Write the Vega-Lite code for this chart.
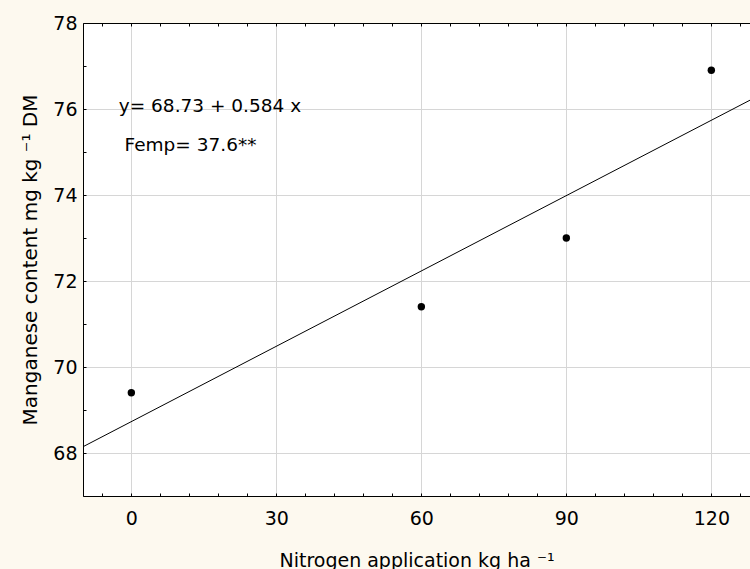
{
  "$schema": "https://vega.github.io/schema/vega-lite/v6.json",
  "width": 667,
  "height": 473,
  "autosize": "none",
  "padding": {"left": 83, "top": 23, "right": 0, "bottom": 73},
  "background": "#fdf9ef",
  "config": {"view": {"fill": "white", "stroke": null}, "font": "DejaVu Sans"},
  "datasets": {
    "points": [
      {"n": 0, "mn": 69.4},
      {"n": 60, "mn": 71.4},
      {"n": 90, "mn": 73.0},
      {"n": 120, "mn": 76.9}
    ],
    "fit": [
      {"n": -10, "mn": 68.146},
      {"n": 128, "mn": 76.205}
    ]
  },
  "layer": [
    {
      "data": {"name": "fit"},
      "mark": {"type": "line", "color": "black", "strokeWidth": 1, "clip": true},
      "encoding": {
        "x": {
          "field": "n", "type": "quantitative",
          "scale": {"domain": [-10, 128], "nice": false, "zero": false},
          "axis": {
            "orient": "top",
            "values": [-6, 0, 6, 12, 18, 24, 30, 36, 42, 48, 54, 60, 66, 72, 78, 84, 90, 96, 102, 108, 114, 120, 126],
            "labels": false, "grid": false, "title": null,
            "domainColor": "black", "domainWidth": 1,
            "tickColor": "black", "tickSize": -3, "tickWidth": 1
          }
        },
        "y": {
          "field": "mn", "type": "quantitative",
          "scale": {"domain": [67, 78], "nice": false, "zero": false},
          "axis": null
        }
      }
    },
    {
      "data": {"name": "points"},
      "mark": {"type": "point", "filled": true, "color": "black", "size": 55, "opacity": 1},
      "encoding": {
        "x": {
          "field": "n", "type": "quantitative",
          "axis": {
            "orient": "bottom",
            "values": [-6, 0, 6, 12, 18, 24, 30, 36, 42, 48, 54, 60, 66, 72, 78, 84, 90, 96, 102, 108, 114, 120, 126],
            "labelExpr": "datum.value % 30 === 0 ? datum.label : ''",
            "labelOverlap": false,
            "labelFlush": false,
            "grid": true,
            "gridColor": "#d6d6d6",
            "gridWidth": 1,
            "gridOpacity": {"condition": {"test": "datum.value % 30 === 0", "value": 1}, "value": 0},
            "domainColor": "black", "domainWidth": 1,
            "tickColor": "black", "tickSize": -3, "tickWidth": 1,
            "labelFontSize": 19, "labelColor": "black", "labelPadding": 16,
            "title": "Nitrogen application kg ha ⁻¹",
            "titleFontSize": 19, "titleFontWeight": "normal", "titleColor": "black", "titlePadding": 23
          }
        },
        "y": {
          "field": "mn", "type": "quantitative",
          "axis": {
            "orient": "left",
            "values": [67, 68, 69, 70, 71, 72, 73, 74, 75, 76, 77, 78],
            "labelExpr": "datum.value % 2 === 0 ? datum.label : ''",
            "labelOverlap": false,
            "labelFlush": false,
            "grid": true,
            "gridColor": "#d6d6d6",
            "gridWidth": 1,
            "gridOpacity": {"condition": {"test": "datum.value % 2 === 0", "value": 1}, "value": 0},
            "domainColor": "black", "domainWidth": 1,
            "tickColor": "black", "tickSize": -3, "tickWidth": 1,
            "labelFontSize": 19, "labelColor": "black", "labelPadding": 9,
            "title": "Manganese content mg kg ⁻¹ DM",
            "titleFontSize": 20, "titleFontWeight": "normal", "titleColor": "black", "titlePadding": 12
          }
        }
      }
    },
    {
      "data": {"values": [{}]},
      "mark": {"type": "text", "align": "left", "baseline": "alphabetic", "fontSize": 18.5, "color": "black"},
      "encoding": {
        "x": {"datum": -2.6, "type": "quantitative", "axis": null},
        "y": {"datum": 75.94, "type": "quantitative", "axis": null},
        "text": {"value": "y= 68.73 + 0.584 x"}
      }
    },
    {
      "data": {"values": [{}]},
      "mark": {"type": "text", "align": "left", "baseline": "alphabetic", "fontSize": 18.5, "color": "black"},
      "encoding": {
        "x": {"datum": -1.4, "type": "quantitative", "axis": null},
        "y": {"datum": 75.03, "type": "quantitative", "axis": null},
        "text": {"value": "Femp= 37.6**"}
      }
    }
  ],
  "resolve": {"axis": {"x": "independent", "y": "independent"}}
}
